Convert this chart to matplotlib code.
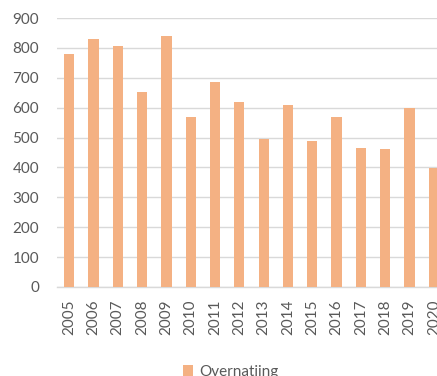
import matplotlib.pyplot as plt
from matplotlib.patches import Patch

# overnight stays per year
years = ["2005", "2006", "2007", "2008", "2009", "2010", "2011", "2012",
         "2013", "2014", "2015", "2016", "2017", "2018", "2019", "2020"]
overnatting = [780, 831, 805, 652, 840, 570, 685, 618,
               495, 610, 489, 570, 466, 463, 600, 399]
series_name = "Overnatiing"

bar_color = "#F4B183"
grid_color = "#D9D9D9"
text_color = "#595959"

plt.rcParams["font.family"] = ["Lato", "DejaVu Sans"]

fig = plt.figure(figsize=(4.37, 3.76), dpi=100)
# plot area runs a little past the right edge of the image
ax = fig.add_axes([57 / 437, 89 / 376, 389 / 437, 269 / 376])

x = range(len(years))
ax.bar(x, overnatting, width=0.42, color=bar_color, zorder=3)

ax.set_ylim(0, 900)
ax.set_yticks(range(0, 901, 100))
ax.set_xlim(-0.5, len(years) - 0.5)
ax.set_xticks(list(x))
ax.set_xticklabels(years, rotation=90)

ax.grid(axis="y", color=grid_color, linewidth=1.0, zorder=0)
for side in ["top", "right", "left"]:
    ax.spines[side].set_visible(False)
ax.spines["bottom"].set_color(grid_color)
ax.spines["bottom"].set_linewidth(1.0)

ax.tick_params(axis="both", length=0, labelsize=11, labelcolor=text_color)
ax.tick_params(axis="y", pad=13)
ax.tick_params(axis="x", pad=9)

handle = Patch(facecolor=bar_color, edgecolor="none")
fig.legend([handle], [series_name], loc="upper left",
           bbox_to_anchor=(178 / 437, 16 / 376), frameon=False,
           fontsize=11, labelcolor=text_color,
           handlelength=0.7, handleheight=0.7, handletextpad=0.4,
           borderaxespad=0, borderpad=0.3)

fig.savefig("out.png", dpi=100)
